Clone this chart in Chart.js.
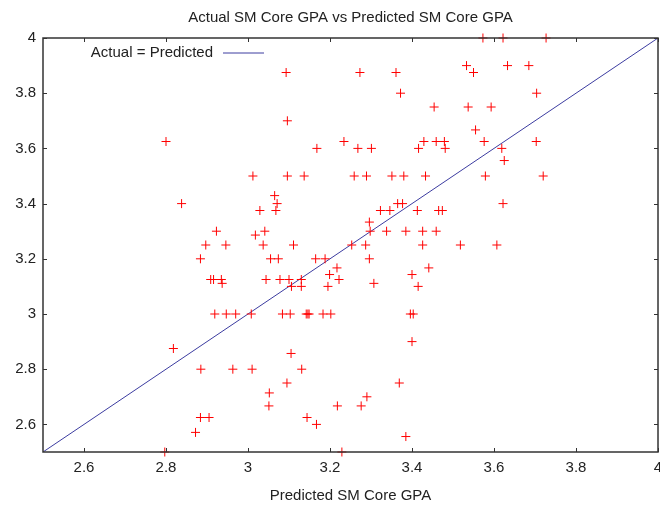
<!DOCTYPE html>
<html>
<head>
<meta charset="utf-8">
<script src="https://cdn.jsdelivr.net/npm/chart.js@4.4.0/dist/chart.umd.min.js"></script>
<style>
  html, body { margin: 0; padding: 0; background: #fff; }
</style>
</head>
<body>
<canvas id="chart" width="660" height="508"></canvas>
<script>
var chartTitle = "Actual SM Core GPA vs Predicted SM Core GPA";
var xAxisTitle = "Predicted SM Core GPA";
var fitLabel = "Actual = Predicted";

var xTickValues = [2.6, 2.8, 3, 3.2, 3.4, 3.6, 3.8, 4];
var yTickValues = [2.6, 2.8, 3, 3.2, 3.4, 3.6, 3.8, 4];

// x = predicted GPA, y = actual GPA
var predicted = [
  3.573, 3.622, 3.727,
  3.533, 3.633, 3.685,
  3.093, 3.273, 3.361, 3.550,
  3.372, 3.704,
  3.454, 3.537, 3.593,
  3.096,
  3.555,
  2.800, 3.234, 3.429, 3.459, 3.479, 3.576, 3.703,
  3.168, 3.268, 3.301, 3.416, 3.481, 3.619,
  3.625,
  3.012, 3.096, 3.137, 3.259, 3.289, 3.351, 3.380, 3.433, 3.579, 3.720,
  3.065,
  2.838, 3.071, 3.365, 3.377, 3.622,
  3.029, 3.068, 3.323, 3.346, 3.413, 3.465, 3.474,
  3.296,
  3.018,
  2.923, 3.041, 3.298, 3.338, 3.385, 3.426, 3.459,
  2.897, 2.946, 3.037, 3.111, 3.253, 3.287, 3.426, 3.518, 3.607,
  2.884, 3.055, 3.074, 3.165, 3.188, 3.296,
  3.217, 3.441,
  3.199, 3.400,
  2.909, 2.916, 2.935, 3.044, 3.078, 3.100, 3.130, 3.222,
  2.937, 3.307,
  3.106, 3.130, 3.195, 3.415,
  2.919, 2.947, 2.970, 3.008, 3.084, 3.103, 3.142, 3.146, 3.149, 3.183, 3.202, 3.396, 3.403,
  3.400,
  2.818,
  3.105,
  2.885, 2.963, 3.010, 3.131,
  3.095, 3.369,
  3.052,
  3.290,
  3.051, 3.218, 3.276,
  2.884, 2.905, 3.144,
  3.167,
  2.872,
  3.385,
  2.797, 3.229
];
var actual = [
  4, 4, 4,
  3.9, 3.9, 3.9,
  3.875, 3.875, 3.875, 3.875,
  3.8, 3.8,
  3.75, 3.75, 3.75,
  3.7,
  3.667,
  3.625, 3.625, 3.625, 3.625, 3.625, 3.625, 3.625,
  3.6, 3.6, 3.6, 3.6, 3.6, 3.6,
  3.556,
  3.5, 3.5, 3.5, 3.5, 3.5, 3.5, 3.5, 3.5, 3.5, 3.5,
  3.429,
  3.4, 3.4, 3.4, 3.4, 3.4,
  3.375, 3.375, 3.375, 3.375, 3.375, 3.375, 3.375,
  3.333,
  3.286,
  3.3, 3.3, 3.3, 3.3, 3.3, 3.3, 3.3,
  3.25, 3.25, 3.25, 3.25, 3.25, 3.25, 3.25, 3.25, 3.25,
  3.2, 3.2, 3.2, 3.2, 3.2, 3.2,
  3.167, 3.167,
  3.143, 3.143,
  3.125, 3.125, 3.125, 3.125, 3.125, 3.125, 3.125, 3.125,
  3.111, 3.111,
  3.1, 3.1, 3.1, 3.1,
  3, 3, 3, 3, 3, 3, 3, 3, 3, 3, 3, 3, 3,
  2.9,
  2.875,
  2.857,
  2.8, 2.8, 2.8, 2.8,
  2.75, 2.75,
  2.714,
  2.7,
  2.667, 2.667, 2.667,
  2.625, 2.625, 2.625,
  2.6,
  2.571,
  2.556,
  2.5, 2.5
];

var fitX = [2.5, 4];
var fitY = [2.5, 4];

(function () {
  "use strict";

  var fontFamily = "'Liberation Sans', Arial, sans-serif";
  var textColor = "#222";
  var frameColor = "#333";
  var lineColor = "#3c3ca0";

  function toPoints(xs, ys) {
    return xs.map(function (x, i) {
      return { x: x, y: ys[i] };
    });
  }

  function setTicks(values) {
    return function (scale) {
      scale.ticks = values.map(function (v) {
        return { value: v };
      });
    };
  }

  // gnuplot-style frame with inward tick marks on all four sides
  var framePlugin = {
    id: "frame",
    afterDatasetsDraw: function (chart) {
      var ctx = chart.ctx;
      var area = chart.chartArea;
      var xs = chart.scales.x;
      var ys = chart.scales.y;
      var len = 4;
      ctx.save();
      ctx.strokeStyle = frameColor;
      ctx.lineWidth = 1;
      ctx.beginPath();
      xTickValues.forEach(function (v) {
        var px = Math.round(xs.getPixelForValue(v)) + 0.5;
        ctx.moveTo(px, area.bottom);
        ctx.lineTo(px, area.bottom - len);
        ctx.moveTo(px, area.top);
        ctx.lineTo(px, area.top + len);
      });
      yTickValues.forEach(function (v) {
        var py = Math.round(ys.getPixelForValue(v)) + 0.5;
        ctx.moveTo(area.left, py);
        ctx.lineTo(area.left + len, py);
        ctx.moveTo(area.right, py);
        ctx.lineTo(area.right - len, py);
      });
      ctx.stroke();
      ctx.lineWidth = 1.5;
      ctx.strokeRect(area.left, area.top, area.right - area.left, area.bottom - area.top);

      // key, top left inside the plot
      var ky = Math.round(area.top + 15);
      ctx.font = "15px " + fontFamily;
      ctx.fillStyle = textColor;
      ctx.textAlign = "right";
      ctx.textBaseline = "middle";
      ctx.fillText(fitLabel, area.left + 170, ky);
      ctx.strokeStyle = lineColor;
      ctx.lineWidth = 1;
      ctx.beginPath();
      ctx.moveTo(area.left + 180, ky);
      ctx.lineTo(area.left + 221, ky);
      ctx.stroke();
      ctx.restore();
    },
  };

  new Chart(document.getElementById("chart"), {
    type: "scatter",
    data: {
      datasets: [
        {
          label: "Actual vs Predicted",
          data: toPoints(predicted, actual),
          pointStyle: "cross",
          pointRadius: 4.5,
          pointBorderWidth: 1,
          borderColor: "#ff0000",
          backgroundColor: "#ff0000",
          clip: false,
        },
        {
          type: "line",
          label: fitLabel,
          data: toPoints(fitX, fitY),
          borderColor: lineColor,
          borderWidth: 1,
          pointRadius: 0,
          fill: false,
        },
      ],
    },
    options: {
      responsive: false,
      animation: false,
      layout: {
        autoPadding: false,
        padding: { left: 0, right: 2, top: 0, bottom: 0 },
      },
      plugins: {
        legend: { display: false },
        tooltip: { enabled: false },
        title: {
          display: true,
          fullSize: false,
          text: chartTitle,
          color: textColor,
          font: { family: fontFamily, size: 15, weight: "normal" },
          padding: { top: 9, bottom: 11 },
        },
      },
      scales: {
        x: {
          type: "linear",
          min: 2.5,
          max: 4,
          grid: { display: false, drawTicks: false },
          border: { display: false },
          afterBuildTicks: setTicks(xTickValues),
          afterFit: function (scale) {
            scale.height = 56;
            scale.paddingLeft = 0;
            scale.paddingRight = 0;
          },
          ticks: {
            color: textColor,
            font: { family: fontFamily, size: 15 },
            padding: 7,
            maxRotation: 0,
            autoSkip: false,
            callback: function (v) {
              return String(v);
            },
          },
          title: {
            display: true,
            text: xAxisTitle,
            color: textColor,
            font: { family: fontFamily, size: 15 },
            padding: { top: 0, bottom: 3 },
          },
        },
        y: {
          type: "linear",
          min: 2.5,
          max: 4,
          grid: { display: false, drawTicks: false },
          border: { display: false },
          afterBuildTicks: setTicks(yTickValues),
          afterFit: function (scale) {
            scale.width = 43;
            scale.paddingTop = 0;
            scale.paddingBottom = 0;
          },
          ticks: {
            color: textColor,
            font: { family: fontFamily, size: 15 },
            padding: 7,
            autoSkip: false,
            callback: function (v) {
              return String(v);
            },
          },
        },
      },
    },
    plugins: [framePlugin],
  });
})();
</script>
</body>
</html>
